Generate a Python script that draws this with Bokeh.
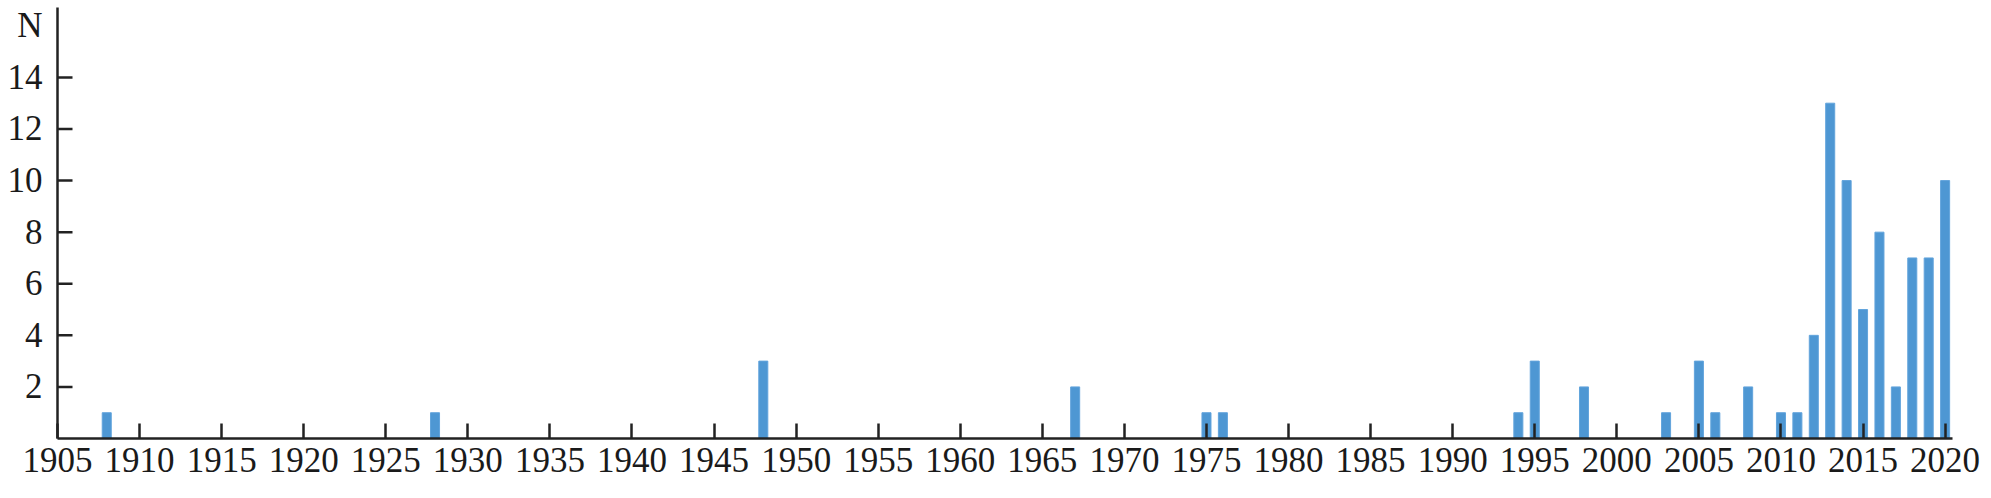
from bokeh.plotting import figure
from bokeh.models import FixedTicker, Range1d
from bokeh.embed import file_html
from bokeh.resources import INLINE

years = [1908, 1928, 1948, 1967, 1975, 1976, 1994, 1995, 1998, 2003, 2005, 2006,
         2008, 2010, 2011, 2012, 2013, 2014, 2015, 2016, 2017, 2018, 2019, 2020]
counts = [1, 1, 3, 2, 1, 1, 1, 3, 2, 1, 3, 1,
          2, 1, 1, 4, 13, 10, 5, 8, 2, 7, 7, 10]
x_ticks = list(range(1905, 2021, 5))
y_ticks = [2, 4, 6, 8, 10, 12, 14]
y_label = "N"
y_label_pos = 16.0

FONT = "Liberation Serif"
AX = "#222222"
X0 = 1905

p = figure(width=1983, height=496, output_backend="svg", toolbar_location=None,
           x_range=Range1d(X0, 2020.45), y_range=Range1d(0, 16.71),
           min_border_left=57, min_border_right=31, min_border_top=7, min_border_bottom=58)
p.outline_line_color = None
p.xgrid.grid_line_color = None
p.ygrid.grid_line_color = None
p.background_fill_color = "white"

p.vbar(x=years, top=counts, bottom=0, width=0.55,
       fill_color="#4e97d3", line_color="#62a4dc", line_width=1)

# inward y-axis tick marks (the axis' own ticks are hidden so that "N" gets no tick)
p.ray(x=[X0] * len(y_ticks), y=y_ticks, length=15, length_units="screen", angle=0,
      line_color=AX, line_width=2.5)

for ax in (p.xaxis[0], p.yaxis[0]):
    ax.axis_line_color = AX
    ax.axis_line_width = 2.5
    ax.major_tick_line_color = AX
    ax.major_tick_line_width = 2.5
    ax.major_tick_out = 0
    ax.minor_tick_line_color = None
    ax.major_label_text_font = FONT
    ax.major_label_text_color = "#1a1a1a"
    ax.major_label_text_font_size = "35px"

p.xaxis[0].major_tick_in = 15
p.yaxis[0].major_tick_in = 0
p.xaxis[0].ticker = FixedTicker(ticks=x_ticks)
p.yaxis[0].ticker = FixedTicker(ticks=y_ticks + [y_label_pos])
p.yaxis[0].major_label_overrides = {y_label_pos: y_label}
p.xaxis[0].major_label_standoff = 9
p.yaxis[0].major_label_standoff = 15

open("out.html", "w").write(file_html(p, INLINE))
